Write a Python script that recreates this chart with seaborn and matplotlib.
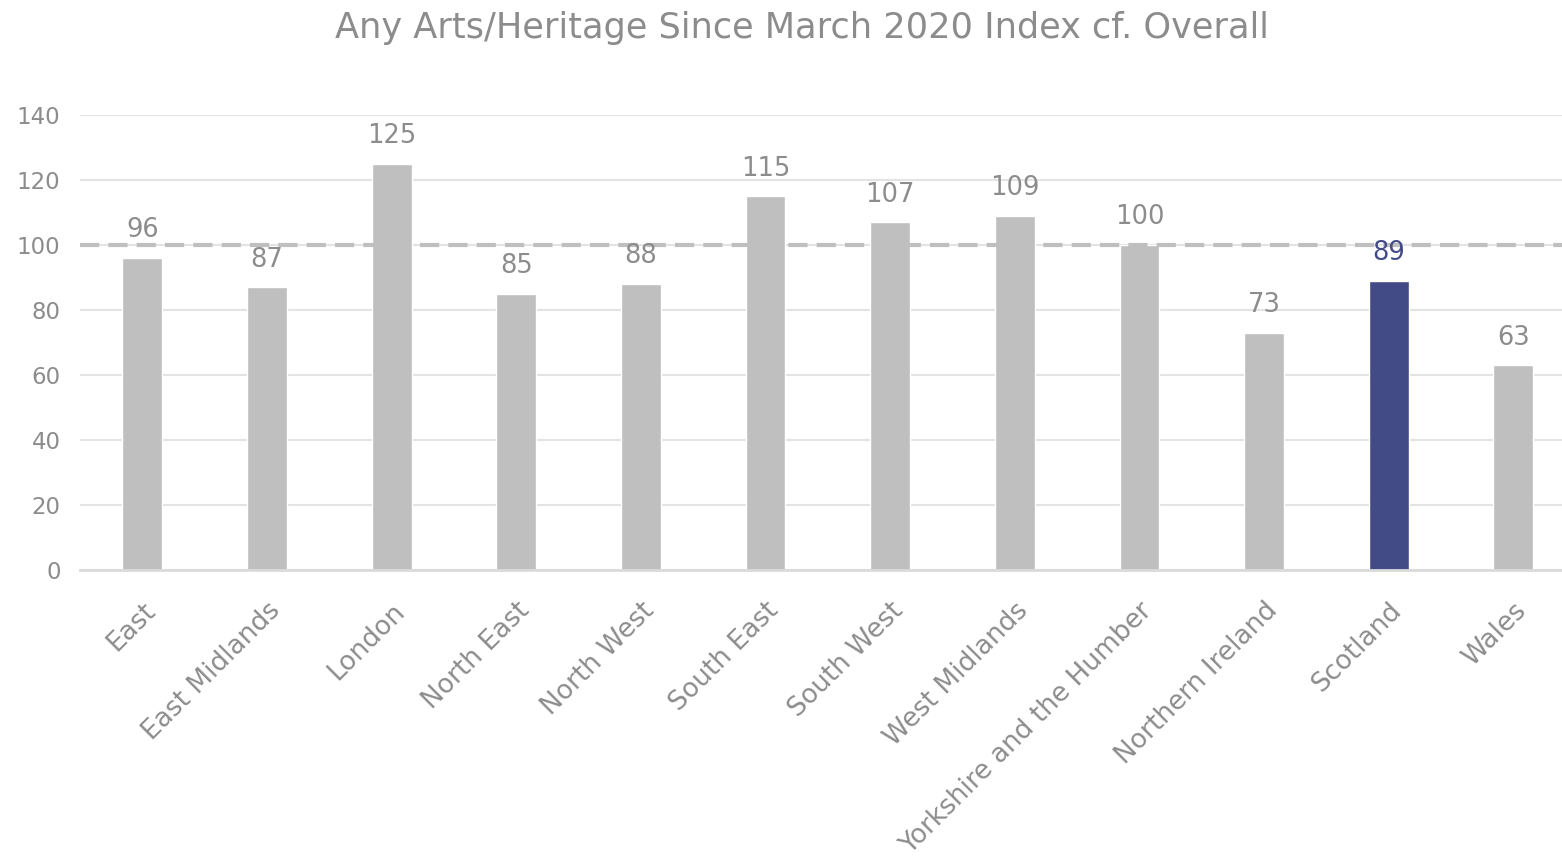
import matplotlib
matplotlib.use("Agg")
import matplotlib.pyplot as plt
import seaborn as sns
import pandas as pd

regions = ["East", "East Midlands", "London", "North East", "North West", "South East",
           "South West", "West Midlands", "Yorkshire and the Humber", "Northern Ireland",
           "Scotland", "Wales"]
index_values = [96, 87, 125, 85, 88, 115, 107, 109, 100, 73, 89, 63]
highlight = "Scotland"
overall = 100
yticks = [0, 20, 40, 60, 80, 100, 120, 140]
title = "Any Arts/Heritage Since March 2020 Index cf. Overall"

GREY = "#bfbfbf"
NAVY = "#434b87"
TEXT = "#8c8c8c"

sns.set_theme(style="white")
plt.rcParams['font.family'] = ['DejaVu Sans']

df = pd.DataFrame({"region": regions, "value": index_values})
palette = {r: (NAVY if r == highlight else GREY) for r in regions}

fig = plt.figure(figsize=(15.62, 8.63), dpi=100)
ax = fig.add_axes([80/1562, 1-570/863, 1482/1562, 455/863])

sns.barplot(data=df, x="region", y="value", hue="region", palette=palette,
            width=0.32, legend=False, ax=ax, saturation=1)

ax.set_ylim(0, 140)
ax.set_xlim(-0.5, 11.39)
ax.set_yticks(yticks)
ax.yaxis.grid(True, color="#e3e3e3", linewidth=1.5)
ax.set_axisbelow(True)
for s in ["top", "right", "left"]:
    ax.spines[s].set_visible(False)
ax.spines["bottom"].set_color("#dadada")
ax.spines["bottom"].set_linewidth(2)

ax.axhline(overall, color=GREY, linestyle=(0, (4.6, 2.2)), linewidth=3, zorder=3)

ax.set_xlabel("")
ax.set_ylabel("")
ax.tick_params(axis="y", length=0, labelsize=16.5, labelcolor=TEXT, pad=14)
ax.tick_params(axis="x", length=0, labelsize=19, labelcolor=TEXT, pad=20)
plt.setp(ax.get_xticklabels(), rotation=45, ha="right", rotation_mode="anchor")

for i, (r, v) in enumerate(zip(regions, index_values)):
    ax.text(i, v + 4.5, str(v), ha="center", va="bottom", fontsize=18.5, zorder=5,
            color=(NAVY if r == highlight else TEXT))

fig.text(0.5135, 1-28/863, title, ha="center", va="center", fontsize=25.3, color=TEXT)

fig.savefig("out.png", dpi=100)
